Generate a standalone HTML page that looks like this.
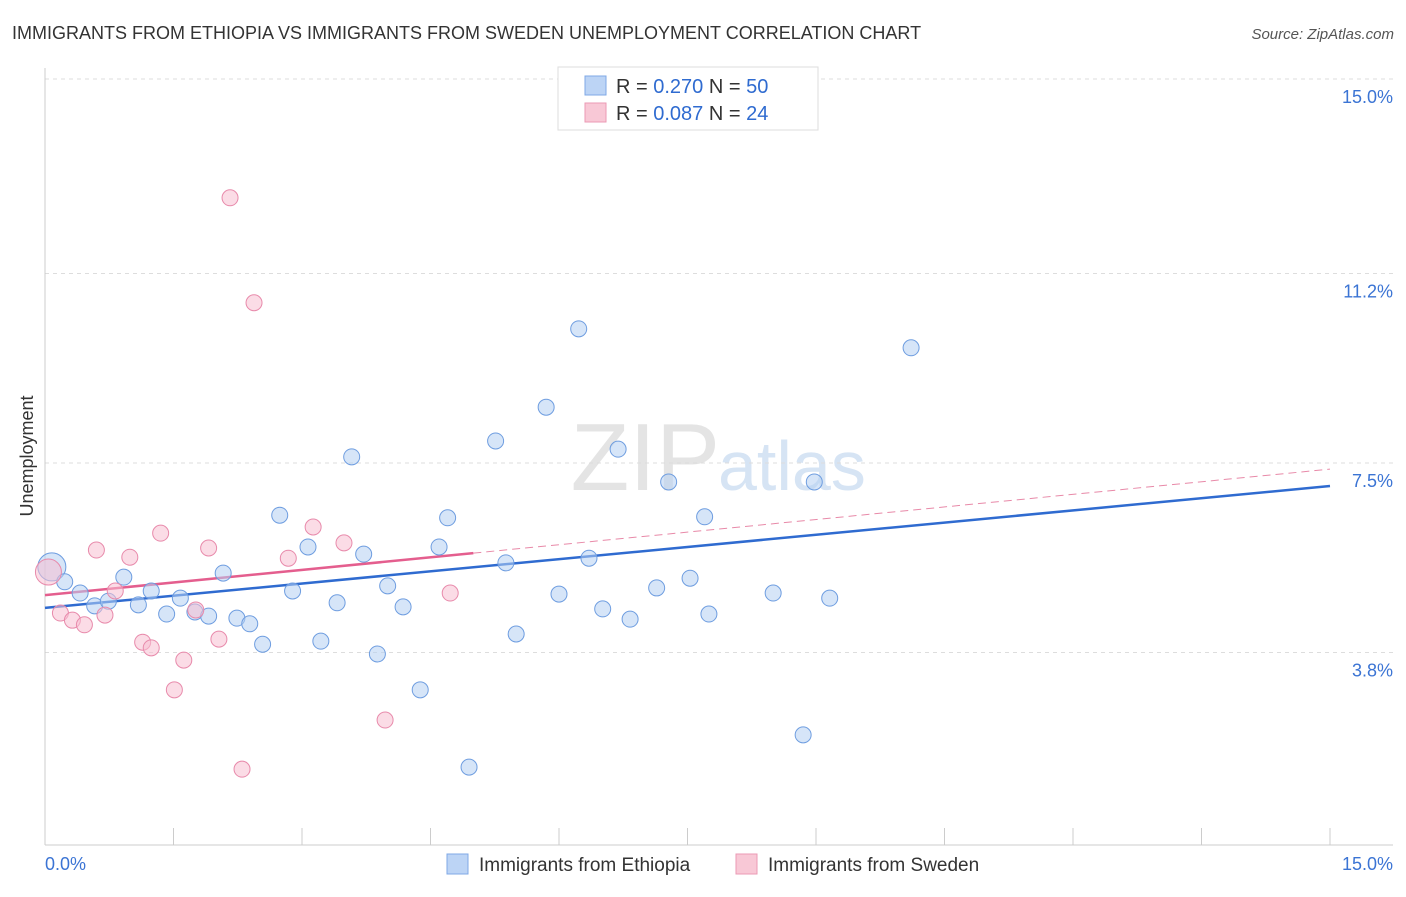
<!DOCTYPE html>
<html><head><meta charset="utf-8"><style>
body{margin:0;background:#fff;font-family:"Liberation Sans",sans-serif;}
svg text{font-family:"Liberation Sans",sans-serif;}
</style></head><body>
<svg id="chart" width="1406" height="892" xmlns="http://www.w3.org/2000/svg">
<text x="12" y="39" font-size="18" fill="#333">IMMIGRANTS FROM ETHIOPIA VS IMMIGRANTS FROM SWEDEN UNEMPLOYMENT CORRELATION CHART</text>
<text x="1394" y="39" font-size="15" fill="#555" text-anchor="end" font-style="italic">Source: ZipAtlas.com</text>
<text x="720" y="490" font-size="96" fill="#e4e4e4" text-anchor="end" font-family="Liberation Serif">ZIP</text>
<text x="718" y="490" font-size="70" fill="#d6e4f4">atlas</text>
<text transform="translate(33,456) rotate(-90)" font-size="18" fill="#333" text-anchor="middle">Unemployment</text>
<g id="grid"></g><g id="axes"></g><g id="trends"></g><g id="points"></g>
<g>
<rect x="558" y="67" width="260" height="63" fill="#fff" stroke="#ddd"/>
<rect x="585" y="76" width="21" height="19" fill="#bcd4f5" stroke="#7fa8e6"/>
<rect x="585" y="103" width="21" height="19" fill="#f8c8d6" stroke="#eb9ab4"/>
<text x="616" y="93" font-size="20" fill="#333">R = <tspan fill="#2f6bd0">0.270</tspan>   N = <tspan fill="#2f6bd0">50</tspan></text>
<text x="616" y="120" font-size="20" fill="#333">R = <tspan fill="#2f6bd0">0.087</tspan>   N = <tspan fill="#2f6bd0"> 24</tspan></text>
</g>
<g>
<rect x="447" y="854" width="21" height="20" fill="#bcd4f5" stroke="#7fa8e6"/>
<text x="479" y="871" font-size="19" fill="#333">Immigrants from Ethiopia</text>
<rect x="736" y="854" width="21" height="20" fill="#f8c8d6" stroke="#eb9ab4"/>
<text x="768" y="871" font-size="19" fill="#333">Immigrants from Sweden</text>
</g>
</svg>
<script>
const yTicks=[15.0,11.2,7.5,3.8];
const yTickLabels=["15.0%","11.2%","7.5%","3.8%"];
const xTickLabels=["0.0%","15.0%"];
const ethX=[0.08,0.23,0.41,0.58,0.74,0.92,1.09,1.24,1.42,1.58,1.75,1.91,2.08,2.24,2.39,2.54,2.74,2.89,3.07,3.22,3.41,3.58,3.72,3.88,4.00,4.18,4.38,4.60,4.70,4.95,5.26,5.38,5.50,5.85,6.00,6.23,6.35,6.51,6.69,6.83,7.14,7.28,7.53,7.70,7.75,8.50,8.85,8.98,9.16,10.11];
const ethY=[5.47,5.18,4.96,4.71,4.80,5.27,4.73,5.00,4.55,4.86,4.59,4.51,5.35,4.47,4.36,3.96,6.48,5.00,5.86,4.02,4.77,7.62,5.72,3.77,5.10,4.69,3.07,5.86,6.43,1.56,7.93,5.55,4.16,8.59,4.94,10.12,5.64,4.65,7.77,4.45,5.06,7.13,5.25,6.45,4.55,4.96,2.19,7.13,4.86,9.75];
const sweX=[0.04,0.18,0.32,0.46,0.60,0.70,0.82,0.99,1.14,1.24,1.35,1.51,1.62,1.76,1.91,2.03,2.16,2.30,2.44,2.84,3.13,3.49,3.97,4.73];
const sweY=[5.37,4.57,4.43,4.34,5.80,4.53,5.00,5.66,4.00,3.89,6.13,3.07,3.65,4.63,5.84,4.06,12.68,1.52,10.63,5.64,6.25,5.94,2.48,4.96];
const ethTrend=[4.67,7.05];
const sweTrend=[4.92,7.38];
const sweSolidEnd=5.0;

const NS="http://www.w3.org/2000/svg";
const X=v=>45+v/15*1285, Y=v=>79+(15-v)*51.2;
function mk(tag,attrs,parent){const e=document.createElementNS(NS,tag);for(const k in attrs)e.setAttribute(k,attrs[k]);document.getElementById(parent).appendChild(e);return e;}
yTicks.forEach((t,i)=>{
 const l=mk('line',{x1:45,x2:1393,y1:Y(t),y2:Y(t),stroke:'#ddd','stroke-dasharray':'4,4'},'grid');
 
 
 const tx=mk('text',{x:1393,y:Y(t)+24,'font-size':18,fill:'#3b74d4','text-anchor':'end'},'grid');
 tx.textContent=yTickLabels[i];
 
 
});
let a=mk('line',{x1:45,x2:45,y1:68,y2:845,stroke:'#ccc'},'axes');


a=mk('line',{x1:45,x2:1393,y1:845,y2:845,stroke:'#ccc'},'axes');


for(let i=0;i<=10;i++){const t=mk('line',{x1:X(i*1.5),x2:X(i*1.5),y1:828,y2:845,stroke:'#ccc'},'axes');
 
 }
let xl=mk('text',{x:45,y:870,'font-size':18,fill:'#3b74d4'},'axes');xl.textContent=xTickLabels[0];


xl=mk('text',{x:1393,y:870,'font-size':18,fill:'#3b74d4','text-anchor':'end'},'axes');xl.textContent=xTickLabels[1];


function pts(xs,ys,fill,stroke,name){xs.forEach((x,i)=>{
 const c=mk('circle',{cx:X(x),cy:Y(ys[i]),r:i===0&&x<0.1?(name==='ethiopia-point'?14:13):8,fill:fill,'fill-opacity':0.55,stroke:stroke,'stroke-width':1},'points');
 
 
});}
pts(ethX,ethY,'#b5cff3','#6e9de0','ethiopia-point');
pts(sweX,sweY,'#f7c0d2','#e88aab','sweden-point');
const sweAt=x=>sweTrend[0]+(sweTrend[1]-sweTrend[0])*x/15;
let t=mk('line',{x1:X(sweSolidEnd),y1:Y(sweAt(sweSolidEnd)),x2:X(15),y2:Y(sweTrend[1]),stroke:'#e889a8','stroke-width':1,'stroke-dasharray':'8,5'},'trends');


t=mk('line',{x1:X(0),y1:Y(ethTrend[0]),x2:X(15),y2:Y(ethTrend[1]),stroke:'#2f6bd0','stroke-width':2.5},'trends');


t=mk('line',{x1:X(0),y1:Y(sweTrend[0]),x2:X(sweSolidEnd),y2:Y(sweAt(sweSolidEnd)),stroke:'#e45e8e','stroke-width':2.5},'trends');


</script>
</body></html>
